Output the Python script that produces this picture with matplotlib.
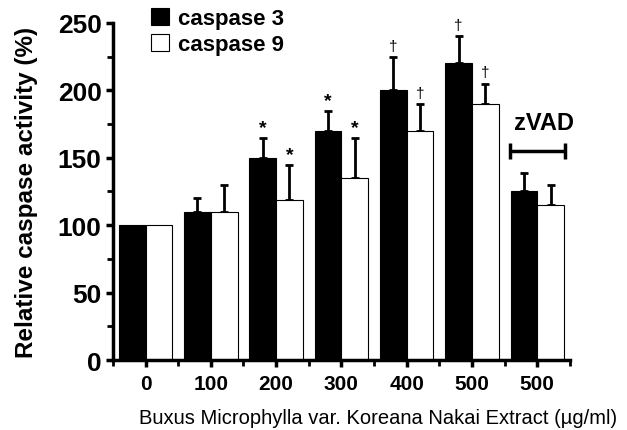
import numpy as np
import matplotlib
matplotlib.use("Agg")
import matplotlib.pyplot as plt

plt.rcParams["font.family"] = ["Liberation Sans", "DejaVu Sans"]

# data
doses = ["0", "100", "200", "300", "400", "500", "500"]
casp3 = [100, 110, 150, 170, 200, 220, 125]
casp3_err = [0, 10, 15, 15, 25, 20, 14]
casp9 = [100, 110, 119, 135, 170, 190, 115]
casp9_err = [0, 20, 26, 30, 20, 15, 15]
casp3_marks = ["", "", "*", "*", "\u2020", "\u2020", ""]
casp9_marks = ["", "", "*", "*", "\u2020", "\u2020", ""]

x = np.arange(len(doses))
w = 0.41

fig = plt.figure(figsize=(6.27, 4.31), dpi=100)
ax = fig.add_axes([0.180, 0.1624, 0.729, 0.782])

ax.bar(x - w / 2, casp3, w, color="black", edgecolor="black", linewidth=0.8,
       label="caspase 3", zorder=2)
ax.bar(x + w / 2, casp9, w, color="white", edgecolor="black", linewidth=0.8,
       label="caspase 9", zorder=2)

for xs, ys, es in ((x - w / 2, casp3, casp3_err), (x + w / 2, casp9, casp9_err)):
    es = np.asarray(es)
    keep = es > 0
    ax.errorbar(xs[keep], np.asarray(ys)[keep],
                yerr=[np.zeros(keep.sum()), es[keep]],
                fmt="none", ecolor="black", elinewidth=2.0, capsize=3,
                capthick=2.0, zorder=1)

for xs, ys, es, ms in ((x - w / 2, casp3, casp3_err, casp3_marks),
                       (x + w / 2, casp9, casp9_err, casp9_marks)):
    for xi, yi, ei, m in zip(xs, ys, es, ms):
        if not m:
            continue
        if m == "*":
            ax.annotate(m, (xi, yi + ei), xytext=(0, 1), textcoords="offset points",
                        ha="center", va="bottom", fontsize=14, fontweight="bold")
        else:
            ax.annotate(m, (xi, yi + ei), xytext=(0, 3), textcoords="offset points",
                        ha="center", va="bottom", fontsize=11)

# zVAD bracket over the last group
ax.errorbar([x[-1]], [155], xerr=[[0.42]], fmt="none", ecolor="black",
            elinewidth=2.5, capsize=6, capthick=2.5, clip_on=False)
ax.text(x[-1] + 0.1, 168, "zVAD", ha="center", va="bottom", fontsize=17,
        fontweight="bold")

ax.set_xlim(-0.5, 6.5)
ax.set_ylim(0, 250)
ax.set_xticks(x)
ax.set_xticklabels(doses, fontsize=15, fontweight="bold")
ax.set_xticks(np.arange(-0.5, 7, 1), minor=True)
ax.set_yticks(np.arange(0, 251, 50))
ax.set_yticks(np.arange(25, 250, 50), minor=True)
for lab in ax.get_yticklabels():
    lab.set_fontsize(19)
    lab.set_fontweight("bold")

for s in ("top", "right"):
    ax.spines[s].set_visible(False)
for s in ("left", "bottom"):
    ax.spines[s].set_linewidth(2.5)
ax.tick_params(which="major", direction="out", length=5, width=2.5, pad=3)
ax.tick_params(which="minor", direction="out", length=4, width=2.0)
ax.tick_params(axis="x", which="major", pad=5)

ax.set_ylabel("Relative caspase activity (%)", fontsize=17.5, fontweight="bold",
              labelpad=14)
fig.text(0.603, 0.03, "Buxus Microphylla var. Koreana Nakai Extract (\u00b5g/ml)",
         fontsize=14.5, ha="center", va="center")

ax.legend(loc="upper left", bbox_to_anchor=(0.065, 1.07), frameon=False,
          prop={"weight": "bold", "size": 16},
          handlelength=0.8, handleheight=0.8, handletextpad=0.4,
          labelspacing=0.2, borderaxespad=0)

fig.savefig("out.png", dpi=100)
